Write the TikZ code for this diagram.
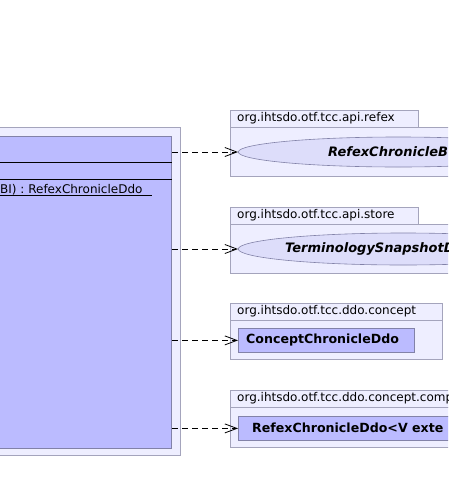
\documentclass[tikz,border=0pt]{standalone}
\usepackage{fontspec}
\setmainfont{DejaVu Sans}
\usetikzlibrary{arrows.meta,positioning,shapes.geometric}
\definecolor{pkgfill}{HTML}{EEEEFF}
\definecolor{pkgline}{HTML}{A4A4BC}
\definecolor{clsfill}{HTML}{BBBBFF}
\definecolor{clsline}{HTML}{8282A8}
\definecolor{ifcfill}{HTML}{DDDDFA}

\begin{document}
\begin{tikzpicture}[x=1pt,y=-1pt,
  pkgbox/.style={fill=pkgfill,draw=pkgline,line width=0.8pt},
  clsbox/.style={fill=clsfill,draw=clsline,line width=0.8pt,inner sep=0pt},
  ifcbox/.style={ellipse,fill=ifcfill,draw=clsline,line width=0.6pt,inner sep=0pt},
  pkgname/.style={anchor=west,font=\fontsize{12}{14}\selectfont,inner sep=0pt},
  clsname/.style={anchor=west,font=\fontsize{12.6}{14}\selectfont\bfseries,inner sep=0pt},
  ifcname/.style={anchor=west,font=\fontsize{13}{15}\selectfont\bfseries\itshape,inner sep=0pt},
  dep/.style={dash pattern=on 6pt off 4pt,line width=0.8pt,-{Straight Barb[length=12pt,width=9pt]}}]
  \useasboundingbox (0,0) rectangle (448,493);
  \clip (0,0) rectangle (448,493);
  % Left package and class
  \fill[pkgbox] (-10,127) rectangle (180,455);
  \node[clsbox,anchor=north east,minimum width=200,minimum height=312] (cls) at (172,136) {};
  \draw[line width=0.8pt] (cls.west |- 0,162) -- (cls.east |- 0,162);
  \draw[line width=0.8pt] (cls.west |- 0,179) -- (cls.east |- 0,179);
  \node[pkgname,anchor=base west] (op) at (0,193) {BI) : RefexChronicleDdo};
  \draw[line width=0.6pt] (0,195.5) -- (152,195.5);
  % Package api.refex
  \draw[pkgbox] (230,110) rectangle (418,127);
  \draw[pkgbox] (230,127) rectangle (460,176);
  \node[pkgname] (refexpkg) at (237,118.5) {org.ihtsdo.otf.tcc.api.refex};
  \node[ifcbox,anchor=west,minimum width=320,minimum height=30] (refex) at (238,152) {};
  \node[ifcname] (refexname) at (328,152) {RefexChronicleB};
  % Package api.store
  \draw[pkgbox] (230,207) rectangle (418,224);
  \draw[pkgbox] (230,224) rectangle (460,273);
  \node[pkgname] (storepkg) at (237,215.5) {org.ihtsdo.otf.tcc.api.store};
  \node[ifcbox,anchor=west,minimum width=330,minimum height=32] (store) at (238,249) {};
  \node[ifcname] (storename) at (285,249) {TerminologySnapshotD};
  % Package ddo.concept
  \draw[pkgbox] (230,303) rectangle (442,320);
  \draw[pkgbox] (230,320) rectangle (442,359);
  \node[pkgname] (conceptpkg) at (237,311.5) {org.ihtsdo.otf.tcc.ddo.concept};
  \node[clsbox,anchor=north west,minimum width=176,minimum height=24] (concept) at (238,328) {};
  \node[clsname] (conceptname) at (246,340) {ConceptChronicleDdo};
  % Package ddo.concept.component
  \draw[pkgbox] (230,390) rectangle (460,407);
  \draw[pkgbox] (230,407) rectangle (460,447);
  \node[pkgname] (comppkg) at (237,398.5) {org.ihtsdo.otf.tcc.ddo.concept.comp};
  \node[clsbox,anchor=north west,minimum width=230,minimum height=24] (refexddo) at (238,416) {};
  \node[clsname] (refexddoname) at (252,428) {RefexChronicleDdo<V exte};
  % Dependencies
  \draw[dep] (cls.east |- refex.west) -- (refex.west);
  \draw[dep] (cls.east |- store.west) -- (store.west);
  \draw[dep] (cls.east |- concept.west) -- (concept.west);
  \draw[dep] (cls.east |- refexddo.west) -- (refexddo.west);
\end{tikzpicture}
\end{document}
